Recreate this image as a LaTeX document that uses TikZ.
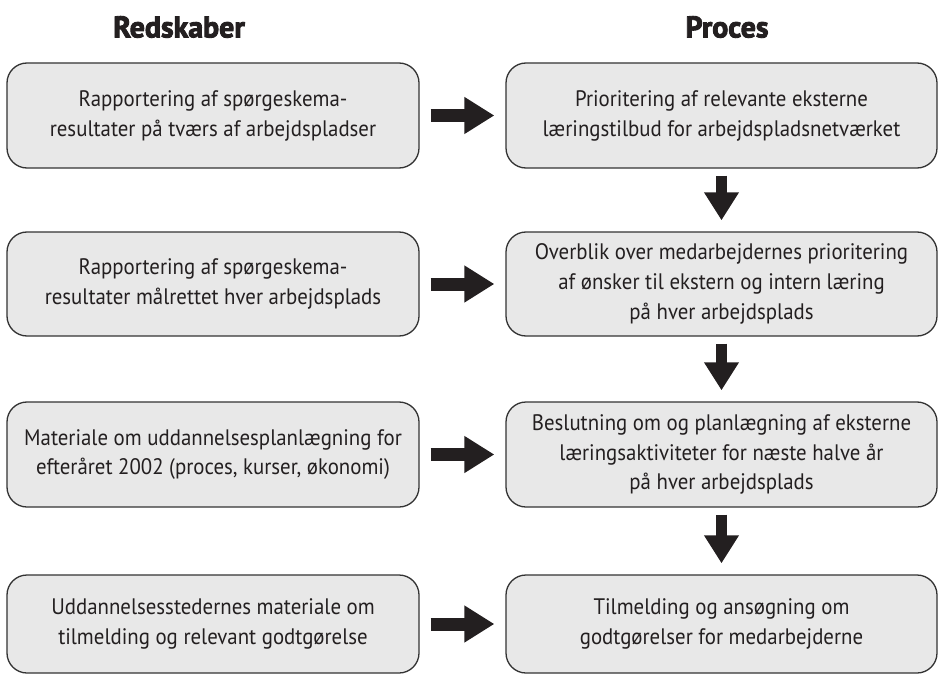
\documentclass[tikz,border=0pt]{standalone}
\usepackage{fontspec}
\setmainfont{PT Sans}[FakeStretch=0.93]
\newfontfamily\headfont{PT Sans}[FakeBold=3]
\usetikzlibrary{arrows.meta, positioning}

\definecolor{boxfill}{HTML}{E8E8E8}
\definecolor{boxline}{HTML}{333333}
\definecolor{darktext}{HTML}{231F20}

\begin{document}
\begin{tikzpicture}[x=1bp, y=-1bp,
  toolbox/.style={draw=boxline, fill=boxfill, line width=1.3bp, rounded corners=20bp,
    minimum width=412bp, align=center, text=darktext, inner sep=0pt,
    font=\fontsize{22.5}{30}\selectfont},
  procbox/.style={toolbox, minimum width=431bp},
  header/.style={text=darktext, font=\headfont\bfseries\fontsize{30}{34}\selectfont},
  sidearrow/.style={draw=darktext, line width=13bp, -{Triangle[length=30bp, width=35bp]},
    shorten <=11bp, shorten >=11bp},
  downarrow/.style={draw=darktext, line width=11bp, -{Triangle[length=28bp, width=33bp]},
    shorten <=7bp, shorten >=11bp}]
% Row centres and heights
\pgfmathsetmacro{\rowA}{115.5}
\pgfmathsetmacro{\rowB}{284}
\pgfmathsetmacro{\rowC}{454.5}
\pgfmathsetmacro{\rowD}{624}
\pgfmathsetmacro{\leftX}{213}
\pgfmathsetmacro{\rightX}{721.5}

\useasboundingbox (0,0) rectangle (939,674);

% Headers
\node[header] (redskaber) at (179,27) {Redskaber};
\node[header] (proces) at (727,27) {Proces};

% Tools
\node[toolbox, minimum height=105bp] (toolA) at (\leftX,\rowA)
  {Rapportering af spørgeskema-\\resultater på tværs af arbejdspladser};
\node[toolbox, minimum height=104bp] (toolB) at (\leftX,\rowB)
  {Rapportering af spørgeskema-\\resultater målrettet hver arbejdsplads};
\node[toolbox, minimum height=105bp] (toolC) at (\leftX,\rowC)
  {Materiale om uddannelsesplanlægning for\\efteråret 2002 (proces, kurser, økonomi)};
\node[toolbox, minimum height=98bp] (toolD) at (\leftX,\rowD)
  {Uddannelsesstedernes materiale om\\tilmelding og relevant godtgørelse};

% Process
\node[procbox, minimum height=105bp] (stepA) at (\rightX,\rowA)
  {Prioritering af relevante eksterne\\læringstilbud for arbejdspladsnetværket};
\node[procbox, minimum height=104bp] (stepB) at (\rightX,\rowB)
  {Overblik over medarbejdernes prioritering\\af ønsker til ekstern og intern læring\\på hver arbejdsplads};
\node[procbox, minimum height=105bp] (stepC) at (\rightX,\rowC)
  {Beslutning om og planlægning af eksterne\\læringsaktiviteter for næste halve år\\på hver arbejdsplads};
\node[procbox, minimum height=98bp] (stepD) at (\rightX,\rowD)
  {Tilmelding og ansøgning om\\godtgørelser for medarbejderne};

% Arrows tool -> process
\foreach \row in {A,B,C,D}
  \draw[sidearrow] (tool\row) -- (step\row);

% Arrows down the process
\draw[downarrow] (stepA) -- (stepB);
\draw[downarrow] (stepB) -- (stepC);
\draw[downarrow] (stepC) -- (stepD);

\end{tikzpicture}
\end{document}
